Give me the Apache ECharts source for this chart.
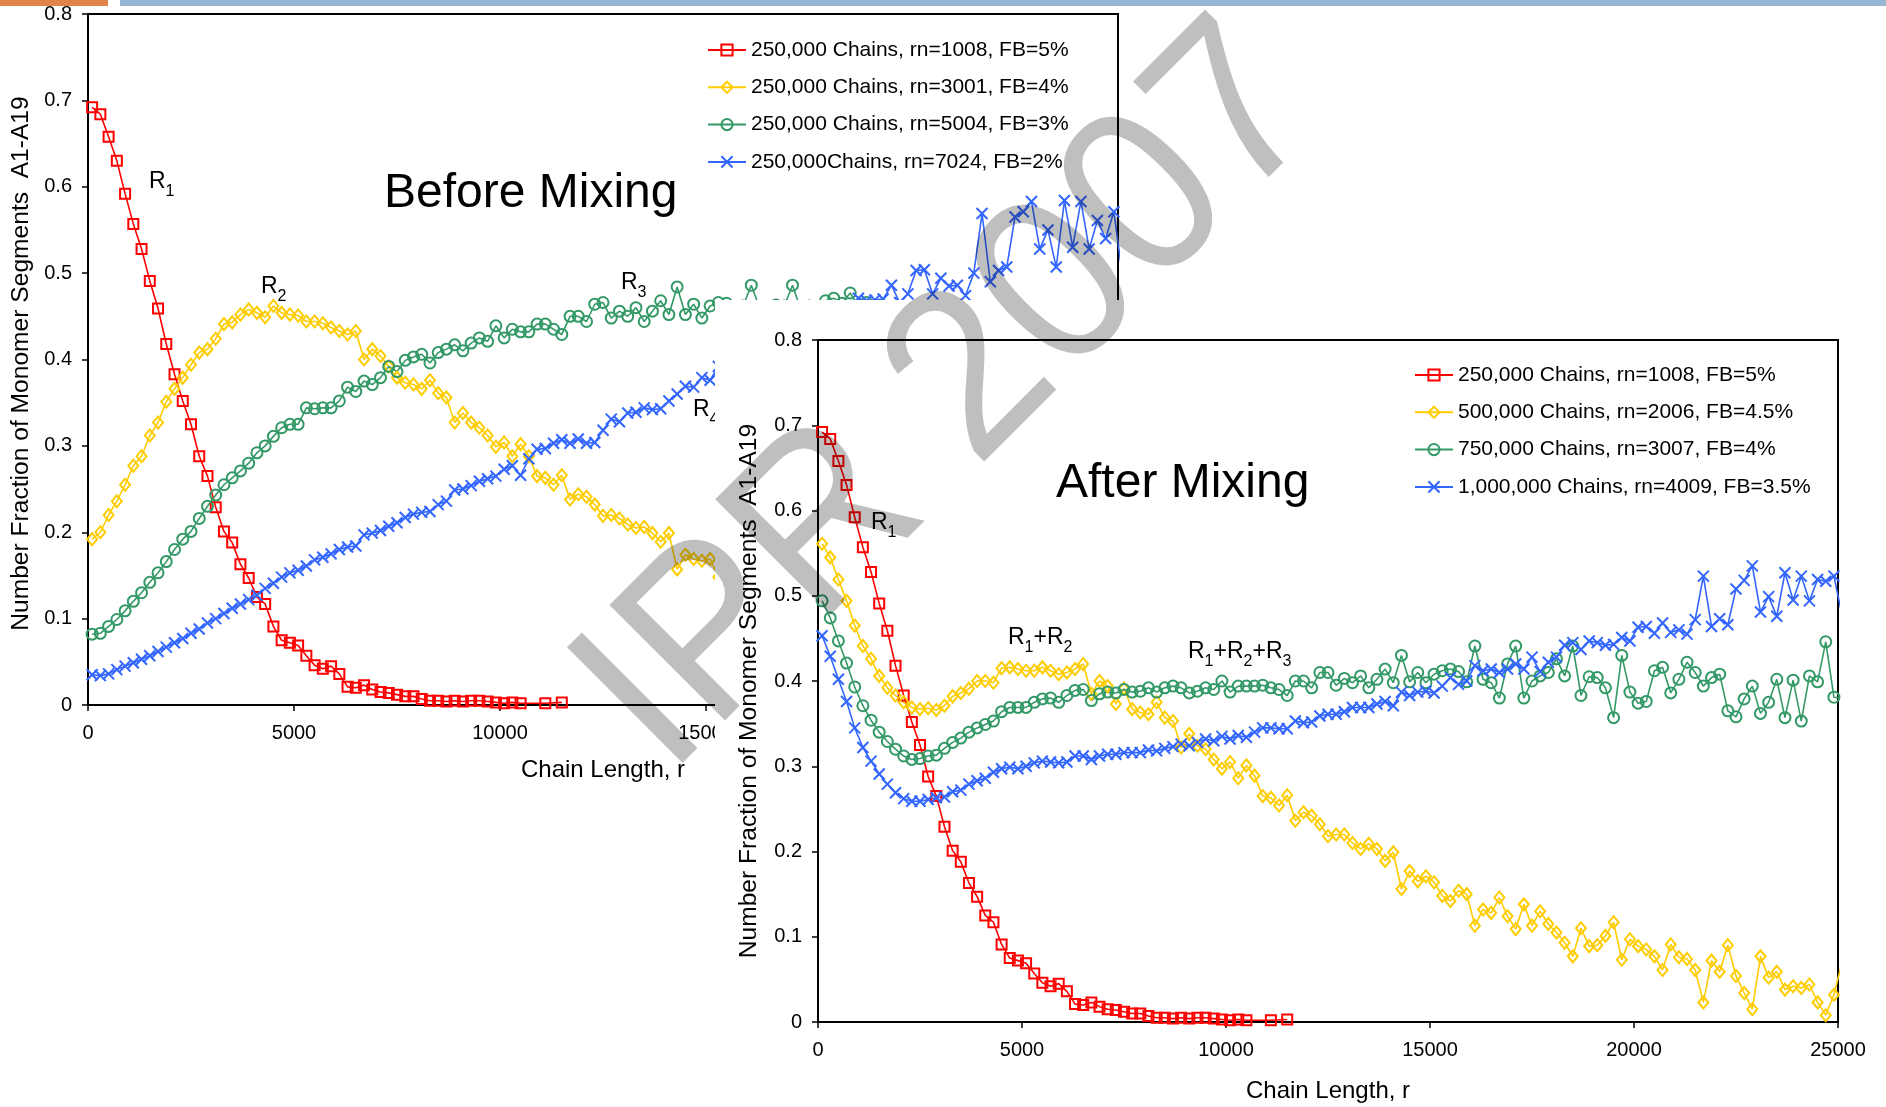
<!DOCTYPE html>
<html><head><meta charset="utf-8">
<script src="https://cdn.jsdelivr.net/npm/echarts@6/dist/echarts.min.js"></script>
<style>html,body{margin:0;padding:0;background:#fff;}#c{width:1886px;height:1107px;}</style>
</head><body><div id="c"></div>
<script>
// ---------------- DATA ----------------
const chainLength = [100,300,500,700,900,1100,1300,1500,1700,1900,2100,2300,2500,2700,2900,3100,3300,3500,3700,3900,4100,4300,4500,4700,4900,5100,5300,5500,5700,5900,6100,6300,6500,6700,6900,7100,7300,7500,7700,7900,8100,8300,8500,8700,8900,9100,9300,9500,9700,9900,10100,10300,10500,10700,10900,11100,11300,11500,11700,11900,12100,12300,12500,12700,12900,13100,13300,13500,13700,13900,14100,14300,14500,14700,14900,15100,15300,15500,15700,15900,16100,16300,16500,16700,16900,17100,17300,17500,17700,17900,18100,18300,18500,18700,18900,19100,19300,19500,19700,19900,20100,20300,20500,20700,20900,21100,21300,21500,21700,21900,22100,22300,22500,22700,22900,23100,23300,23500,23700,23900,24100,24300,24500,24700,24900,25100];

const xTickValues = [0, 5000, 10000, 15000, 20000, 25000];
const yTickValues = [0, 0.1, 0.2, 0.3, 0.4, 0.5, 0.6, 0.7, 0.8];

const nameRed = '250,000 Chains, rn=1008, FB=5%';
const namesBefore = ['250,000 Chains, rn=3001, FB=4%', '250,000 Chains, rn=5004, FB=3%', '250,000Chains, rn=7024, FB=2%'];
const namesAfter = ['500,000 Chains, rn=2006, FB=4.5%', '750,000 Chains, rn=3007, FB=4%', '1,000,000 Chains, rn=4009, FB=3.5%'];

// 250,000 chains rn=1008 (same in both panels)
const redValues = [0.692,0.684,0.658,0.630,0.592,0.557,0.528,0.491,0.459,0.418,
 0.383,0.352,0.325,0.288,0.265,0.229,0.201,0.188,0.163,0.147,
 0.125,0.117,0.091,0.075,0.072,0.069,0.057,0.046,0.042,0.045,
 0.036,0.021,0.020,0.023,0.018,0.015,0.014,0.012,0.010,0.010,
 0.007,0.005,0.005,0.004,0.005,0.004,0.005,0.005,0.004,0.003,
 0.002,0.003,0.002,null,null,0.002,null,0.003];

// Before mixing
const yellowBefore = [0.192,0.200,0.220,0.236,0.255,0.277,0.288,0.312,0.327,0.351,
 0.366,0.379,0.394,0.408,0.412,0.424,0.441,0.443,0.452,0.458,
 0.454,0.449,0.462,0.454,0.452,0.451,0.444,0.444,0.442,0.437,
 0.433,0.429,0.433,0.400,0.412,0.404,0.392,0.379,0.373,0.371,
 0.366,0.376,0.361,0.356,0.327,0.338,0.327,0.321,0.312,0.299,
 0.304,0.288,0.302,0.288,0.265,0.263,0.255,0.266,0.238,0.244,
 0.241,0.232,0.219,0.220,0.216,0.209,0.205,0.206,0.199,0.189,
 0.199,0.157,0.174,0.169,0.167,0.169,0.148,0.150,0.140];

const greenBefore = [0.082,0.083,0.091,0.099,0.109,0.120,0.130,0.142,0.153,0.166,
 0.180,0.192,0.201,0.216,0.230,0.243,0.255,0.263,0.271,0.280,
 0.292,0.300,0.311,0.321,0.325,0.325,0.344,0.343,0.344,0.344,
 0.352,0.368,0.363,0.375,0.371,0.379,0.392,0.386,0.399,0.403,
 0.406,0.396,0.408,0.412,0.417,0.410,0.419,0.425,0.421,0.439,
 0.425,0.435,0.432,0.432,0.441,0.441,0.435,0.429,0.450,0.450,
 0.444,0.464,0.466,0.448,0.456,0.450,0.460,0.444,0.456,0.468,
 0.452,0.484,0.452,0.464,0.448,0.462,0.466,0.465,0.458,0.462,
 0.486,0.460,0.455,0.463,0.462,0.486,0.458,0.462,0.455,0.468,
 0.471,0.465,0.477,0.462,0.466];

const blueBefore = [0.035,0.034,0.036,0.041,0.045,0.049,0.053,0.057,0.062,0.067,
 0.072,0.077,0.083,0.088,0.095,0.100,0.106,0.112,0.117,0.122,
 0.127,0.135,0.141,0.148,0.153,0.156,0.161,0.168,0.171,0.175,
 0.180,0.183,0.184,0.197,0.199,0.202,0.207,0.211,0.217,0.221,
 0.223,0.224,0.232,0.236,0.249,0.250,0.254,0.259,0.262,0.265,
 0.273,0.277,0.266,0.285,0.296,0.297,0.303,0.307,0.303,0.308,
 0.303,0.304,0.318,0.331,0.328,0.338,0.339,0.344,0.342,0.343,
 0.352,0.360,0.369,0.368,0.379,0.376,0.392,0.385,0.398,0.402,
 0.405,0.412,0.410,0.418,0.423,0.425,0.432,0.436,0.441,0.446,
 0.450,0.455,0.458,0.471,0.468,0.469,0.470,0.486,0.466,0.476,
 0.503,0.504,0.476,0.494,0.485,0.486,0.474,0.500,0.569,0.490,
 0.503,0.507,0.565,0.571,0.583,0.528,0.550,0.507,0.584,0.530,
 0.583,0.528,0.561,0.540,0.571,0.500];

// After mixing
const yellowAfter = [0.561,0.545,0.519,0.494,0.465,0.441,0.426,0.406,0.392,0.383,
 0.375,0.369,0.367,0.368,0.366,0.371,0.382,0.386,0.391,0.400,
 0.400,0.398,0.415,0.416,0.414,0.412,0.412,0.416,0.412,0.408,
 0.410,0.414,0.420,0.385,0.400,0.394,0.373,0.391,0.367,0.363,
 0.361,0.375,0.357,0.353,0.322,0.338,0.324,0.320,0.308,0.297,
 0.305,0.286,0.301,0.289,0.265,0.263,0.254,0.266,0.236,0.246,
 0.242,0.232,0.218,0.220,0.220,0.210,0.203,0.209,0.203,0.189,
 0.199,0.156,0.177,0.165,0.171,0.164,0.148,0.142,0.154,0.150,
 0.113,0.132,0.128,0.146,0.124,0.109,0.138,0.113,0.130,0.115,
 0.105,0.093,0.077,0.110,0.089,0.090,0.101,0.117,0.073,0.097,
 0.089,0.085,0.077,0.061,0.091,0.076,0.074,0.061,0.023,0.072,
 0.059,0.090,0.054,0.034,0.015,0.077,0.052,0.059,0.038,0.042,
 0.040,0.044,0.023,0.008,0.032,0.070];

const greenAfter = [0.494,0.474,0.447,0.421,0.393,0.371,0.354,0.340,0.329,0.320,
 0.312,0.308,0.309,0.312,0.313,0.321,0.328,0.333,0.340,0.345,
 0.349,0.353,0.364,0.369,0.369,0.369,0.375,0.379,0.380,0.375,
 0.383,0.389,0.390,0.377,0.385,0.387,0.386,0.390,0.387,0.388,
 0.392,0.387,0.392,0.394,0.392,0.386,0.388,0.392,0.390,0.400,
 0.387,0.394,0.394,0.394,0.395,0.392,0.390,0.383,0.400,0.400,
 0.392,0.410,0.410,0.395,0.403,0.398,0.406,0.392,0.402,0.414,
 0.398,0.430,0.399,0.410,0.398,0.408,0.412,0.414,0.411,0.399,
 0.441,0.402,0.398,0.380,0.420,0.441,0.380,0.400,0.406,0.410,
 0.426,0.406,0.441,0.383,0.405,0.404,0.392,0.357,0.430,0.387,
 0.374,0.376,0.412,0.416,0.386,0.402,0.422,0.410,0.394,0.404,
 0.408,0.365,0.358,0.379,0.394,0.362,0.375,0.402,0.357,0.401,
 0.353,0.406,0.399,0.446,0.381,0.380];

const blueAfter = [0.453,0.429,0.402,0.376,0.345,0.322,0.306,0.291,0.279,0.269,
 0.262,0.259,0.259,0.261,0.263,0.264,0.270,0.272,0.279,0.283,
 0.286,0.293,0.297,0.299,0.297,0.300,0.304,0.306,0.305,0.304,
 0.305,0.312,0.312,0.308,0.312,0.314,0.314,0.316,0.316,0.316,
 0.319,0.318,0.321,0.323,0.326,0.324,0.328,0.332,0.330,0.335,
 0.332,0.336,0.334,0.340,0.345,0.345,0.344,0.344,0.353,0.351,
 0.352,0.359,0.361,0.361,0.364,0.369,0.369,0.369,0.373,0.376,
 0.371,0.387,0.383,0.387,0.388,0.386,0.394,0.404,0.396,0.400,
 0.418,0.412,0.414,0.410,0.414,0.420,0.414,0.428,0.411,0.422,
 0.428,0.442,0.445,0.437,0.447,0.445,0.442,0.443,0.451,0.447,
 0.463,0.464,0.456,0.468,0.457,0.460,0.455,0.472,0.523,0.464,
 0.473,0.466,0.508,0.518,0.535,0.481,0.499,0.476,0.527,0.495,
 0.523,0.494,0.519,0.517,0.523,0.477];

// ---------------- STYLE ----------------
const FONT = "'Liberation Sans', Arial, sans-serif";
const C_RED = '#FF0000', C_YEL = '#FFCC00', C_GRN = '#339966', C_BLU = '#3366FF';
const CROSS = 'path://M0,0L10,10M10,0L0,10';

function pts(ys) {
  const out = [];
  ys.forEach((v, i) => { if (v !== null && v !== undefined) out.push([chainLength[i], v]); });
  return out;
}
function mkLine(name, ys, gi, color, symbol, size, z) {
  const isPath = symbol.indexOf('path://') === 0;
  return {
    type: 'line', name: name, xAxisIndex: gi, yAxisIndex: gi, data: pts(ys), z: z,
    symbol: symbol, symbolSize: size, showAllSymbol: true, connectNulls: true,
    animation: false, silent: true, clip: true,
    lineStyle: { color: color, width: 1.6 },
    itemStyle: { color: isPath ? color : 'rgba(0,0,0,0)', borderColor: color, borderWidth: 2 },
    emphasis: { disabled: true }
  };
}

function mkX(gi, nameGap, z) {
  return {
    gridIndex: gi, type: 'value', min: xTickValues[0], max: xTickValues[xTickValues.length - 1], interval: 5000, z: z,
    axisLine: { show: true, onZero: false, lineStyle: { color: '#000', width: 2 } },
    axisTick: { show: true, inside: false, length: 6, lineStyle: { color: '#000', width: 1.5 } },
    axisLabel: { color: '#000', fontSize: 20, fontFamily: FONT, margin: 18, formatter: v => String(v) },
    splitLine: { show: false },
    name: 'Chain Length, r', nameLocation: 'middle', nameGap: nameGap,
    nameTextStyle: { color: '#000', fontSize: 24, fontFamily: FONT }
  };
}
function mkY(gi, nameGap, z, shiftPad) {
  return {
    gridIndex: gi, type: 'value', min: yTickValues[0], max: yTickValues[yTickValues.length - 1], interval: 0.1, z: z,
    axisLine: { show: true, onZero: false, lineStyle: { color: '#000', width: 2 } },
    axisTick: { show: true, inside: false, length: 6, lineStyle: { color: '#000', width: 1.5 } },
    axisLabel: { color: '#000', fontSize: 20, fontFamily: FONT, margin: 16, formatter: v => (v === 0 ? '0' : v.toFixed(1)) },
    splitLine: { show: false },
    name: 'Number Fraction of Monomer Segments  A1-A19', nameLocation: 'middle', nameGap: nameGap,
    nameTextStyle: { color: '#000', fontSize: 24.6, fontFamily: FONT, padding: [0, shiftPad, 0, 0] }
  };
}
function mkLegend(names, left, top, z) {
  return {
    data: names, orient: 'vertical', left: left, top: top, z: z, padding: 0,
    itemWidth: 38, itemHeight: 14, itemGap: 15.3, selectedMode: false,
    textStyle: { color: '#000', fontSize: 21, fontFamily: FONT, lineHeight: 22 }
  };
}

// subscript annotation helper
const mctx = document.createElement('canvas').getContext('2d');
function tw(t, fs) { mctx.font = fs + 'px ' + FONT; return mctx.measureText(t).width; }
function subLabel(pairs, x, y, z) {
  const els = []; let cx = x;
  pairs.forEach(p => {
    els.push({ type: 'text', x: cx, y: y, z: z, silent: true,
      style: { text: p[0], fontSize: 23, fontFamily: FONT, fill: '#000', align: 'left', verticalAlign: 'middle' } });
    cx += tw(p[0], 23);
    els.push({ type: 'text', x: cx, y: y + 10, z: z, silent: true,
      style: { text: p[1], fontSize: 16, fontFamily: FONT, fill: '#000', align: 'left', verticalAlign: 'middle' } });
    cx += tw(p[1], 16);
  });
  return els;
}

const graphics = [
  { type: 'rect', z: 100, silent: true, shape: { x: 0, y: 0, width: 108, height: 6 }, style: { fill: '#E0844A' } },
  { type: 'rect', z: 100, silent: true, shape: { x: 120, y: 0, width: 1766, height: 6 }, style: { fill: '#94B6D3' } },
  // white panel of the overlaid "After Mixing" chart
  { type: 'rect', z: 10, silent: true, shape: { x: 715, y: 300, width: 1171, height: 807 }, style: { fill: '#fff' } },
  { type: 'text', x: 384, y: 194, z: 5, silent: true,
    style: { text: 'Before Mixing', fontSize: 48, fontFamily: FONT, fill: '#000', align: 'left', verticalAlign: 'middle' } },
  { type: 'text', x: 1056, y: 484, z: 15, silent: true,
    style: { text: 'After Mixing', fontSize: 48, fontFamily: FONT, fill: '#000', align: 'left', verticalAlign: 'middle' } },
  ...subLabel([['R', '1']], 149, 182, 5),
  ...subLabel([['R', '2']], 261, 287, 5),
  ...subLabel([['R', '3']], 621, 283, 5),
  ...subLabel([['R', '4']], 693, 410, 5),
  ...subLabel([['R', '1']], 871, 523, 15),
  ...subLabel([['R', '1'], ['+R', '2']], 1008, 638, 15),
  ...subLabel([['R', '1'], ['+R', '2'], ['+R', '3']], 1188, 652, 15),
  // watermark
  { type: 'text', x: 952, y: 401, rotation: Math.PI / 4, scaleY: 1.06, z: 100, silent: true,
    style: { text: 'IPR 2007', fontSize: 224, fontFamily: FONT, fill: 'rgba(0,0,0,0.25)', align: 'center', verticalAlign: 'middle' } }
];

const option = {
  animation: false,
  backgroundColor: '#fff',
  grid: [
    { left: 88, top: 14, width: 1030, height: 691, show: true, borderColor: '#000', borderWidth: 2, backgroundColor: 'rgba(0,0,0,0)', containLabel: false, outerBoundsMode: 'none', z: 0 },
    { left: 818, top: 340, width: 1020, height: 682, show: true, borderColor: '#000', borderWidth: 2, backgroundColor: 'rgba(0,0,0,0)', containLabel: false, outerBoundsMode: 'none', z: 11 }
  ],
  xAxis: [mkX(0, 53, 1), mkX(1, 57, 12)],
  yAxis: [mkY(0, 52, 1, 8), mkY(1, 56, 12, 20)],
  legend: [
    mkLegend([nameRed].concat(namesBefore), 707, 39, 4),
    mkLegend([nameRed].concat(namesAfter), 1414, 364, 14)
  ],
  series: [
    mkLine(nameRed, redValues, 0, C_RED, 'rect', 10, 2),
    mkLine(namesBefore[0], yellowBefore, 0, C_YEL, 'diamond', [10, 12], 2),
    mkLine(namesBefore[1], greenBefore, 0, C_GRN, 'circle', 11, 2),
    mkLine(namesBefore[2], blueBefore, 0, C_BLU, CROSS, 11, 2),
    mkLine(nameRed, redValues, 1, C_RED, 'rect', 10, 13),
    mkLine(namesAfter[0], yellowAfter, 1, C_YEL, 'diamond', [10, 12], 13),
    mkLine(namesAfter[1], greenAfter, 1, C_GRN, 'circle', 11, 13),
    mkLine(namesAfter[2], blueAfter, 1, C_BLU, CROSS, 11, 13)
  ],
  graphic: { elements: graphics }
};

const chart = echarts.init(document.getElementById('c'), null, { renderer: 'canvas' });
chart.setOption(option);
</script>
</body></html>
